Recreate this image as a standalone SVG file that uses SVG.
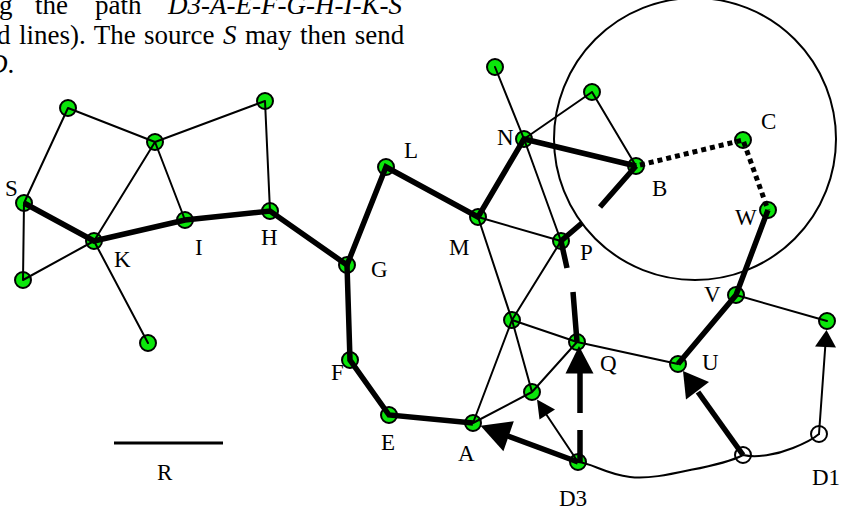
<svg xmlns="http://www.w3.org/2000/svg" width="842" height="512" viewBox="0 0 842 512">
<style>
.bg{fill:#fff}
.node{fill:#0be60b;stroke:#000;stroke-width:2}
.hollow{fill:#fff;stroke:#000;stroke-width:2}
.lbl{font-family:"Liberation Serif","Times New Roman",serif;font-size:23px;fill:#000}
.para{font-family:"Liberation Serif","Times New Roman",serif;font-size:27px;fill:#000}
.it{font-style:italic}
.thin{stroke:#000;stroke-width:2;fill:none;stroke-linecap:round}
.thick{stroke:#000;stroke-width:5.5;fill:none;stroke-linecap:butt}
.dot{stroke:#000;stroke-width:5;fill:none;stroke-dasharray:5 4}
.head{fill:#000;stroke:none}
</style>
<rect class="bg" x="0" y="0" width="842" height="512"/>

<g id="caption">
<text class="para" y="14"><tspan x="-1">g</tspan><tspan x="35">the</tspan><tspan x="95">path</tspan><tspan x="168" class="it">D3-A-E-F-G-H-I-K-S</tspan></text>
<text class="para" x="-3" y="44" word-spacing="1.7">d lines). The source <tspan class="it">S</tspan> may then send</text>
<text class="para" x="-12" y="73"><tspan class="it">D</tspan>.</text>
</g>

<g id="range-circle"><circle cx="695" cy="139" r="141" fill="none" stroke="#000" stroke-width="2"/></g>

<g id="scale"><line x1="114" y1="443" x2="223" y2="443" stroke="#000" stroke-width="3"/><text class="lbl" x="157" y="480">R</text></g>

<g id="n1"><circle class="node" cx="68" cy="108" r="8"/></g>
<g id="n2"><circle class="node" cx="155" cy="142" r="8"/></g>
<g id="n3"><circle class="node" cx="265" cy="101" r="8"/></g>
<g id="S"><circle class="node" cx="24" cy="203" r="8"/><text class="lbl" x="5" y="196">S</text></g>
<g id="K"><circle class="node" cx="94" cy="241" r="8"/><text class="lbl" x="114" y="267">K</text></g>
<g id="I"><circle class="node" cx="185" cy="220" r="8"/><text class="lbl" x="195" y="255">I</text></g>
<g id="H"><circle class="node" cx="270" cy="211" r="8"/><text class="lbl" x="261" y="245">H</text></g>
<g id="n4"><circle class="node" cx="23" cy="280" r="8"/></g>
<g id="n5"><circle class="node" cx="148" cy="343" r="8"/></g>
<g id="G"><circle class="node" cx="347" cy="265" r="8"/><text class="lbl" x="371" y="277">G</text></g>
<g id="L"><circle class="node" cx="386" cy="167" r="8"/><text class="lbl" x="404" y="158">L</text></g>
<g id="M"><circle class="node" cx="478" cy="217" r="8"/><text class="lbl" x="449" y="255">M</text></g>
<g id="N"><circle class="node" cx="524" cy="139" r="8"/><text class="lbl" x="497" y="145">N</text></g>
<g id="n6"><circle class="node" cx="495" cy="67" r="8"/></g>
<g id="n7"><circle class="node" cx="592" cy="92" r="8"/></g>
<g id="B"><circle class="node" cx="636" cy="166" r="8"/><text class="lbl" x="652" y="196">B</text></g>
<g id="C"><circle class="node" cx="743" cy="140" r="8"/><text class="lbl" x="761" y="129">C</text></g>
<g id="W"><circle class="node" cx="768" cy="210" r="8"/><text class="lbl" x="735" y="225">W</text></g>
<g id="P"><circle class="node" cx="561" cy="241" r="8"/><text class="lbl" x="580" y="260">P</text></g>
<g id="V"><circle class="node" cx="736" cy="295" r="8"/><text class="lbl" x="704" y="302">V</text></g>
<g id="n10"><circle class="node" cx="827" cy="321" r="8"/></g>
<g id="n8"><circle class="node" cx="512" cy="320" r="8"/></g>
<g id="Q"><circle class="node" cx="577" cy="342" r="8"/><text class="lbl" x="600" y="371">Q</text></g>
<g id="U"><circle class="node" cx="678" cy="364" r="8"/><text class="lbl" x="702" y="370">U</text></g>
<g id="n9"><circle class="node" cx="532" cy="392" r="8"/></g>
<g id="F"><circle class="node" cx="350" cy="360" r="8"/><text class="lbl" x="331" y="380">F</text></g>
<g id="E"><circle class="node" cx="389" cy="415" r="8"/><text class="lbl" x="381" y="450">E</text></g>
<g id="A"><circle class="node" cx="473" cy="423" r="8"/><text class="lbl" x="458" y="461">A</text></g>
<g id="D3"><circle class="node" cx="578" cy="462" r="8"/><text class="lbl" x="559" y="506">D3</text></g>
<g id="D2"><circle class="hollow" cx="743" cy="455" r="8"/></g>
<g id="D1"><circle class="hollow" cx="819" cy="434" r="8"/><text class="lbl" x="812" y="485">D1</text></g>

<g id="connectors">
<path class="thin" d="M68,108L24,203M68,108L155,142M155,142L265,101M155,142L94,241M155,142L185,220M265,101L270,211M24,203L23,280M23,280L94,241M94,241L148,343"/>
<path class="thin" d="M478,217L561,241M478,217L512,320M524,139L592,92M592,92L636,166M495,67L524,139M524,139L561,241M561,241L512,320M512,320L473,423M512,320L532,392M512,320L577,342M473,423L532,392M532,392L577,342M577,342L678,364M736,295L827,321"/>
<path class="thin" d="M578,462L546,414"/>
<polygon class="head" points="537,399.5 555,409.6 539.5,419.4"/>
<path class="thin" d="M819,434L825.3,346"/>
<polygon class="head" points="826.5,330 836,347.5 815,346.5"/>
<path class="thin" d="M578,462C592,463 605,474 630,477C648,479 667,475 690,470C706,467 728,463 743,455C756,458 776,455 793,448C803,444 812,440 819,434"/>
<path class="thick" d="M24,203L94,241L185,220L270,211L347,265L386,167L478,217L524,139L636,166"/>
<path class="thick" d="M347,265L350,360L389,415L473,423"/>
<path class="thick" d="M578,462L508,436"/>
<polygon class="head" points="480.5,425.8 513.8,421.2 503.4,451.2"/>
<path class="thick" d="M743,455L698,392"/>
<polygon class="head" points="683,371 709,382 686,399.5"/>
<path class="thick" d="M678,364L736,295L768,210"/>
<path class="dot" d="M640,165L743,140L768,210"/>
<path class="thick" d="M580,462L580,430M580,413L580,372M577,342L573,292M567,268L561,241L582,223M600,207L636,166"/>
<polygon class="head" points="579,346 593.5,373.5 565.5,373.5"/>
</g>
</svg>
